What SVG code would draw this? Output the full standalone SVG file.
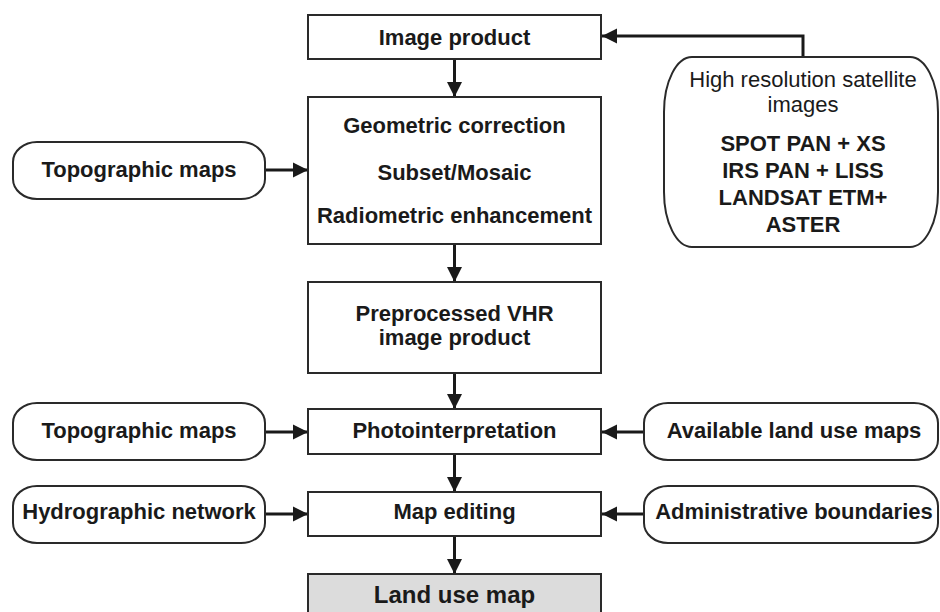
<svg xmlns="http://www.w3.org/2000/svg" width="940" height="612" viewBox="0 0 940 612">
<style>
.box{fill:#fff;stroke:#2a2a2a;stroke-width:2}
.rbox{fill:#fff;stroke:#2a2a2a;stroke-width:2}
.gray{fill:#dcdcdc;stroke:#2a2a2a;stroke-width:2}
.t{font-family:"Liberation Sans",Arial,sans-serif;font-size:22px;font-weight:bold;fill:#1a1a1a;text-anchor:middle}
.r{font-family:"Liberation Sans",Arial,sans-serif;font-size:22px;fill:#1a1a1a;text-anchor:middle}
.c{fill:none;stroke:#1a1a1a;stroke-width:3}
</style>
<defs>
<marker id="ah" viewBox="0 0 10 10" refX="10" refY="5" markerUnits="userSpaceOnUse" markerWidth="15" markerHeight="18" orient="auto">
<path d="M0,0 L10,5 L0,10 Z" fill="#1a1a1a"/>
</marker>
</defs>
<rect width="940" height="612" fill="#fff"/>
<g id="connectors">
<path class="c" d="M454.5,59 V97" marker-end="url(#ah)"/>
<path class="c" d="M803,57 V36 H602" marker-end="url(#ah)"/>
<path class="c" d="M265,170 H308" marker-end="url(#ah)"/>
<path class="c" d="M454.5,244 V282" marker-end="url(#ah)"/>
<path class="c" d="M454.5,373 V409" marker-end="url(#ah)"/>
<path class="c" d="M265,432 H308" marker-end="url(#ah)"/>
<path class="c" d="M644,432 H602" marker-end="url(#ah)"/>
<path class="c" d="M454.5,454 V492" marker-end="url(#ah)"/>
<path class="c" d="M265,514 H308" marker-end="url(#ah)"/>
<path class="c" d="M644,514 H602" marker-end="url(#ah)"/>
<path class="c" d="M454.5,536 V574" marker-end="url(#ah)"/>
</g>
<g id="image-product">
<rect class="box" x="308" y="15" width="293" height="44"/>
<text class="t" x="454.5" y="45">Image product</text>
</g>
<g id="preprocessing">
<rect class="box" x="308" y="97" width="293" height="147"/>
<text class="t" x="454.5" y="133">Geometric correction</text>
<text class="t" x="454.5" y="180">Subset/Mosaic</text>
<text class="t" x="454.5" y="223">Radiometric enhancement</text>
</g>
<g id="satellite-images">
<rect class="rbox" x="664" y="57" width="274" height="190" rx="28" ry="55"/>
<text class="r" x="803" y="87">High resolution satellite</text>
<text class="r" x="803" y="112">images</text>
<text class="t" x="803" y="151">SPOT PAN + XS</text>
<text class="t" x="803" y="178">IRS PAN + LISS</text>
<text class="t" x="803" y="205">LANDSAT ETM+</text>
<text class="t" x="803" y="232">ASTER</text>
</g>
<g id="topographic-maps-1">
<rect class="rbox" x="13" y="142" width="252" height="57" rx="24" ry="20"/>
<text class="t" x="139" y="177">Topographic maps</text>
</g>
<g id="preprocessed-vhr">
<rect class="box" x="308" y="282" width="293" height="91"/>
<text class="t" x="454.5" y="321">Preprocessed VHR</text>
<text class="t" x="454.5" y="345">image product</text>
</g>
<g id="photointerpretation">
<rect class="box" x="308" y="409" width="293" height="45"/>
<text class="t" x="454.5" y="438">Photointerpretation</text>
</g>
<g id="topographic-maps-2">
<rect class="rbox" x="13" y="403" width="252" height="57" rx="24" ry="20"/>
<text class="t" x="139" y="438">Topographic maps</text>
</g>
<g id="available-land-use-maps">
<rect class="rbox" x="644" y="403" width="294" height="57" rx="24" ry="20"/>
<text class="t" x="794" y="438">Available land use maps</text>
</g>
<g id="map-editing">
<rect class="box" x="308" y="492" width="293" height="44"/>
<text class="t" x="454.5" y="519">Map editing</text>
</g>
<g id="hydrographic-network">
<rect class="rbox" x="13" y="486" width="252" height="57" rx="24" ry="20"/>
<text class="t" x="139" y="519">Hydrographic network</text>
</g>
<g id="administrative-boundaries">
<rect class="rbox" x="644" y="486" width="294" height="57" rx="24" ry="20"/>
<text class="t" x="794" y="519">Administrative boundaries</text>
</g>
<g id="land-use-map">
<rect class="gray" x="308" y="574" width="293" height="50"/>
<text class="t" x="454.5" y="603" style="font-size:24px">Land use map</text>
</g>
</svg>
